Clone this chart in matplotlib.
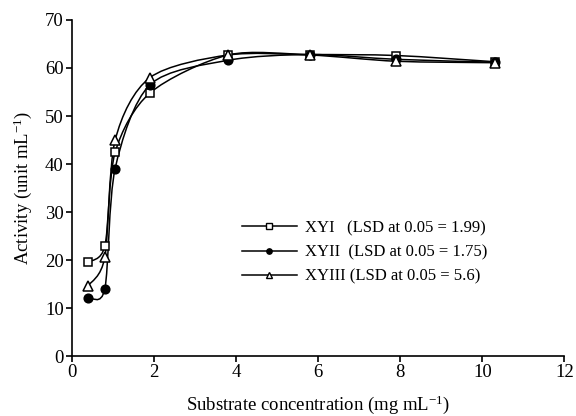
import numpy as np
import matplotlib
matplotlib.use('Agg')
import matplotlib.pyplot as plt
from matplotlib.path import Path
from matplotlib.patches import PathPatch
from matplotlib.lines import Line2D

plt.rcParams['font.family'] = ['Liberation Serif', 'DejaVu Serif']
plt.rcParams['mathtext.fontset'] = 'custom'
plt.rcParams['mathtext.rm'] = 'Liberation Serif'
plt.rcParams['mathtext.it'] = 'Liberation Serif:italic'

# substrate concentration (mg/mL) and activity (unit/mL)
conc = [0.4, 0.8, 1.05, 1.9, 3.8, 5.8, 7.9, 10.3]
xyi = [19.6, 22.9, 42.4, 54.8, 62.7, 62.8, 62.6, 61.3]
xyii = [12.2, 14.0, 39.0, 56.5, 61.6, 62.8, 61.8, 61.2]
xyiii = [14.7, 20.6, 44.9, 58.0, 62.7, 62.7, 61.4, 61.1]

labels = ['XYI   (LSD at 0.05 = 1.99)',
          'XYII  (LSD at 0.05 = 1.75)',
          'XYIII (LSD at 0.05 = 5.6)']


def smooth_path(x, y, k=7.0):
    # smoothed line like excel: bezier segments through the points
    p = np.column_stack([x, y]).astype(float)
    verts = [p[0]]
    codes = [Path.MOVETO]
    n = len(p)
    for i in range(n - 1):
        p0 = p[i - 1] if i > 0 else p[i]
        p3 = p[i + 2] if i + 2 < n else p[i + 1]
        c1 = p[i] + (p[i + 1] - p0) / k
        c2 = p[i + 1] - (p3 - p[i]) / k
        verts += [c1, c2, p[i + 1]]
        codes += [Path.CURVE4] * 3
    return Path(verts, codes)


fig = plt.figure(figsize=(5.76, 4.16), dpi=100)
ax = fig.add_axes([0.125, 0.144, 0.855, 0.808])

series = [(xyi, 's', 'white', 6.3), (xyii, 'o', 'black', 6.2), (xyiii, '^', 'white', 7.0)]
handles = []
for (vals, mk, fc, ms), lab in zip(series, labels):
    ax.add_patch(PathPatch(smooth_path(conc, vals), fill=False, lw=1.1, ec='black', zorder=2))
    ax.plot(conc, vals, linestyle='none', marker=mk, mfc=fc, mec='black', mew=1.1, ms=ms, zorder=3)
    handles.append(Line2D([], [], color='black', lw=1.1, marker=mk, mfc=fc, mec='black',
                          mew=1.0, ms=ms * 0.62, label=lab))

ax.set_xlim(0, 12)
ax.set_ylim(0, 70)
ax.set_xticks(range(0, 13, 2))
ax.set_yticks(range(0, 71, 10))
ax.spines['top'].set_visible(False)
ax.spines['right'].set_visible(False)
for s in ['left', 'bottom']:
    ax.spines[s].set_linewidth(1.2)
ax.tick_params(direction='out', length=4, width=1.2, labelsize=13.5, pad=2)

ax.set_xlabel('Substrate concentration (mg mL$^{-1}$)', fontsize=13.5, labelpad=9)
ax.set_ylabel('Activity (unit mL$^{-1}$)', fontsize=13.5, labelpad=8)

fig.legend(handles=handles, loc='center left', bbox_to_anchor=(0.42, 0.393),
           frameon=False, fontsize=12, handlelength=3.3, handletextpad=0.5,
           labelspacing=0.5, borderpad=0, borderaxespad=0)

fig.savefig('out.png', dpi=100)
